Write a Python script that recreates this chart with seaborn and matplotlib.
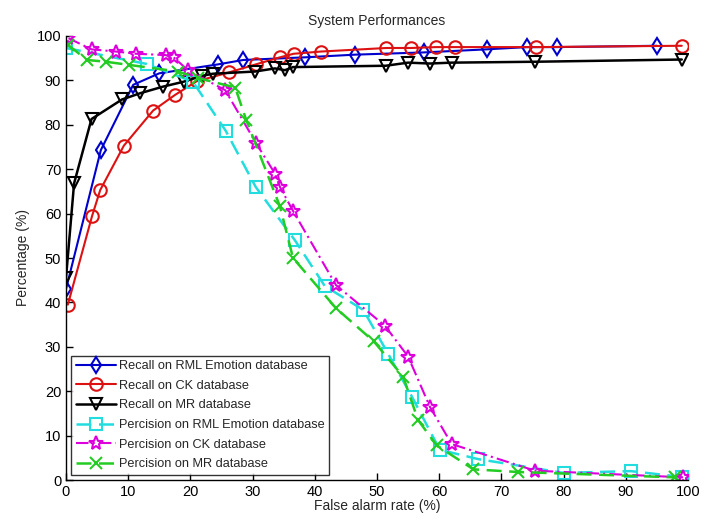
import numpy as np
import pandas as pd
import matplotlib
matplotlib.use("Agg")
import matplotlib.pyplot as plt
import seaborn as sns

# ------------------------------------------------------------
# Datos (False alarm rate vs porcentaje)
# ------------------------------------------------------------
rml_recall_x = [0, 5.6, 10.8, 15.0, 24.4, 28.5, 38.5, 46.5, 57.5, 67.7, 74.1, 78.9, 95.0]
rml_recall_y = [43.0, 74.3, 89.0, 91.6, 93.6, 94.6, 95.2, 95.8, 96.3, 97.0, 97.5, 97.5, 97.8]

ck_recall_x = [0.3, 4.2, 5.5, 9.3, 14.0, 17.5, 21.0, 26.2, 30.5, 34.4, 36.6, 41.0,
               51.5, 55.5, 59.5, 62.5, 75.5, 99.0]
ck_recall_y = [39.5, 59.5, 65.3, 75.3, 83.2, 86.7, 89.8, 91.8, 93.6, 95.2, 96.0, 96.5,
               97.3, 97.3, 97.5, 97.5, 97.5, 97.8]

mr_recall_x = [0, 1.3, 4.1, 9.0, 11.9, 15.6, 18.9, 21.8, 23.6, 30.4, 33.6, 35.2, 36.5,
               51.4, 55.0, 58.5, 62.0, 75.4, 99.0]
mr_recall_y = [45.5, 66.8, 81.3, 85.7, 87.1, 88.6, 89.7, 91.0, 91.5, 92.0, 92.7, 92.3, 93.0,
               93.3, 94.0, 93.8, 94.0, 94.2, 94.7]

rml_prec_x = [0, 13.0, 20.4, 25.7, 30.5, 36.8, 41.6, 47.8, 51.8, 55.6, 60.1, 66.3, 80.0, 90.8, 99.0]
rml_prec_y = [97.3, 93.7, 89.7, 78.6, 66.0, 54.0, 43.7, 38.3, 28.4, 18.8, 6.8, 4.7, 1.6, 2.0, 0.7]

ck_prec_x = [0.4, 4.1, 8.0, 11.3, 16.0, 17.3, 19.6, 25.6, 30.5, 33.6, 34.4, 36.5,
             43.4, 51.3, 55.0, 58.5, 62.0, 75.4, 99.2]
ck_prec_y = [99.5, 97.0, 96.5, 96.0, 95.7, 95.2, 92.3, 87.8, 76.0, 69.0, 66.0, 60.6,
             43.9, 34.7, 27.8, 16.5, 8.1, 2.1, 0.6]

mr_prec_x = [0.3, 3.4, 6.4, 10.1, 18.0, 21.3, 27.2, 29.0, 34.4, 36.5, 43.4, 49.5,
             54.2, 56.6, 59.6, 65.5, 72.7, 97.9]
mr_prec_y = [98.0, 94.6, 94.2, 93.5, 92.0, 90.5, 88.4, 81.0, 61.6, 50.0, 38.7, 31.2,
             23.3, 13.5, 7.8, 2.4, 1.8, 0.6]

series_labels = [
    "Recall on RML Emotion database",
    "Recall on CK database",
    "Recall on MR database",
    "Percision on RML Emotion database",
    "Percision on CK database",
    "Percision on MR database",
]
series_x = [rml_recall_x, ck_recall_x, mr_recall_x, rml_prec_x, ck_prec_x, mr_prec_x]
series_y = [rml_recall_y, ck_recall_y, mr_recall_y, rml_prec_y, ck_prec_y, mr_prec_y]

# estilo tipo MATLAB
styles = [
    dict(color="#0000cc", marker="d", linestyle="-", lw=1.5, ms=8),
    dict(color="#dd1111", marker="o", linestyle="-", lw=1.5, ms=9),
    dict(color="#000000", marker="v", linestyle="-", lw=1.8, ms=9),
    dict(color="#22dddd", marker="s", linestyle=(0, (6, 3)), lw=1.8, ms=8),
    dict(color="#dd00dd", marker="*", linestyle=(0, (6, 2, 1, 2)), lw=1.5, ms=10),
    dict(color="#22cc22", marker="x", linestyle=(0, (6, 3)), lw=1.8, ms=8),
]

sns.set_theme(style="ticks")
plt.rcParams["font.family"] = ["Liberation Sans", "DejaVu Sans"]

fig = plt.figure(figsize=(7.15, 5.26), dpi=100)
ax = fig.add_axes([66 / 715, 46 / 526, 622 / 715, 444 / 526])

for label, xs, ys, st in zip(series_labels, series_x, series_y, styles):
    df = pd.DataFrame({"x": xs, "y": ys})
    sns.lineplot(
        data=df, x="x", y="y", ax=ax, sort=False, label=label,
        color=st["color"], linestyle=st["linestyle"], linewidth=st["lw"],
        marker=st["marker"], markersize=st["ms"], markerfacecolor="none",
        markeredgecolor=st["color"], markeredgewidth=1.5,
    )

ax.set_xlim(0, 100)
ax.set_ylim(0, 100)
ax.set_xticks(np.arange(0, 101, 10))
ax.set_yticks(np.arange(0, 101, 10))
ax.tick_params(direction="in", length=5, width=1, labelsize=10.5, colors="black")
for side in ["top", "right"]:
    ax.spines[side].set_visible(False)
for side in ["left", "bottom"]:
    ax.spines[side].set_color("black")
    ax.spines[side].set_linewidth(1)

ax.set_title("System Performances", fontsize=10, pad=8)
ax.set_xlabel("False alarm rate (%)", fontsize=10, labelpad=0)
ax.set_ylabel("Percentage (%)", fontsize=10, labelpad=5)

leg = ax.legend(loc="lower left", fontsize=9.2, frameon=True, fancybox=False,
                handlelength=3.2, borderaxespad=0.4, labelspacing=0.6,
                handletextpad=0.2, borderpad=0.35)
leg.get_frame().set_edgecolor("black")
leg.get_frame().set_linewidth(1)

fig.savefig("out.png", dpi=100)
plt.close(fig)
